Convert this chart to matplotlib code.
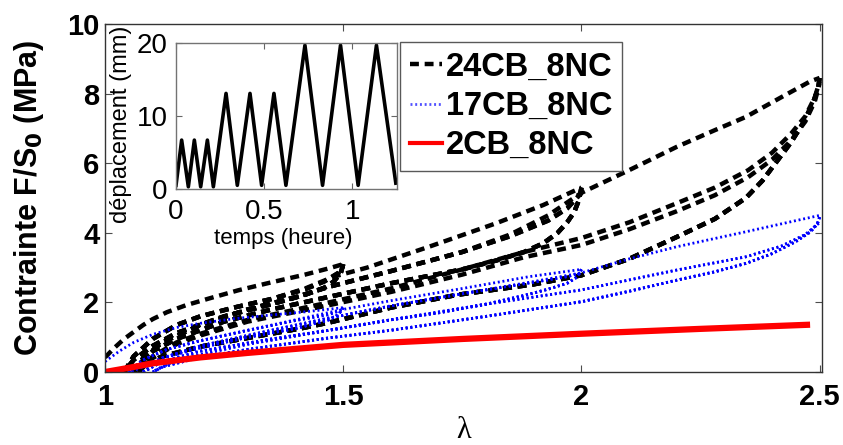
import numpy as np
import matplotlib
matplotlib.use("Agg")
import matplotlib.pyplot as plt

# ---------------- data ----------------
series_names = ["24CB_8NC", "17CB_8NC", "2CB_8NC"]

# 24CB_8NC (black dashed) : successive loading / unloading branches
b_load1_lam = [1.00, 1.02, 1.04, 1.06, 1.08, 1.10, 1.13, 1.17, 1.22, 1.28, 1.35, 1.42, 1.47, 1.50]
b_load1_sig = [0.42, 0.70, 0.95, 1.15, 1.35, 1.52, 1.72, 1.92, 2.12, 2.35, 2.58, 2.80, 2.98, 3.10]
b_unl1_lam = [1.50, 1.495, 1.48, 1.46, 1.42, 1.35, 1.25, 1.15, 1.10, 1.06, 1.04]
b_unl1_sig = [3.10, 2.85, 2.60, 2.42, 2.22, 1.95, 1.60, 1.12, 0.75, 0.35, 0.00]
b_rel1_lam = [1.04, 1.06, 1.10, 1.15, 1.20, 1.27, 1.35, 1.42, 1.46, 1.49, 1.50]
b_rel1_sig = [0.00, 0.45, 0.95, 1.35, 1.60, 1.85, 2.10, 2.38, 2.60, 2.85, 3.05]
b_load2_lam = [1.04, 1.06, 1.10, 1.15, 1.20, 1.27, 1.35, 1.42, 1.48, 1.55, 1.68, 1.82, 1.92, 2.00]
b_load2_sig = [0.00, 0.45, 0.95, 1.35, 1.60, 1.85, 2.10, 2.40, 2.74, 3.00, 3.60, 4.27, 4.80, 5.30]
b_unl2_lam = [2.00, 1.995, 1.985, 1.97, 1.95, 1.92, 1.88, 1.82, 1.75, 1.60, 1.47, 1.35,
              1.25, 1.15, 1.10, 1.07, 1.06]
b_unl2_sig = [5.30, 4.95, 4.60, 4.30, 4.00, 3.70, 3.45, 3.20, 2.95, 2.55, 2.16, 1.80,
              1.45, 0.95, 0.60, 0.20, 0.00]
b_rel2_lam = [1.06, 1.08, 1.12, 1.20, 1.30, 1.40, 1.47, 1.60, 1.75, 1.85, 1.93, 1.97, 2.00]
b_rel2_sig = [0.00, 0.40, 0.85, 1.35, 1.80, 2.15, 2.45, 2.90, 3.45, 3.90, 4.35, 4.70, 5.15]
b_load3_lam = [1.06, 1.08, 1.12, 1.20, 1.30, 1.40, 1.47, 1.60, 1.75, 1.85, 1.93, 2.00,
               2.10, 2.20, 2.28, 2.345, 2.42, 2.48, 2.50]
b_load3_sig = [0.00, 0.40, 0.85, 1.35, 1.80, 2.15, 2.45, 2.90, 3.45, 3.95, 4.50, 5.15,
               5.80, 6.47, 6.95, 7.33, 7.90, 8.35, 8.45]
b_unl3_lam = [2.50, 2.497, 2.485, 2.465, 2.44, 2.41, 2.38, 2.345, 2.28, 2.20, 2.10, 2.00,
              1.90, 1.74, 1.60, 1.47, 1.41, 1.30, 1.20, 1.12, 1.08, 1.07]
b_unl3_sig = [8.45, 8.15, 7.70, 7.15, 6.60, 6.05, 5.50, 5.00, 4.40, 3.88, 3.25, 2.78,
              2.52, 2.22, 1.85, 1.42, 1.25, 0.98, 0.73, 0.45, 0.20, 0.00]
b_rel3a_lam = [1.07, 1.10, 1.15, 1.20, 1.30, 1.47, 1.60, 1.75, 1.88, 2.00, 2.10, 2.20,
               2.28, 2.35, 2.40, 2.44, 2.47, 2.49, 2.50]
b_rel3a_sig = [0.00, 0.45, 0.85, 1.10, 1.50, 2.00, 2.40, 2.95, 3.45, 3.85, 4.30, 4.85,
               5.30, 5.80, 6.30, 6.85, 7.35, 7.90, 8.35]
b_rel3b_lam = [1.07, 1.10, 1.15, 1.20, 1.30, 1.47, 1.60, 1.75, 1.88, 2.00, 2.10, 2.20,
               2.28, 2.35, 2.40, 2.44, 2.47, 2.49, 2.50]
b_rel3b_sig = [0.00, 0.40, 0.80, 1.05, 1.45, 1.92, 2.30, 2.80, 3.30, 3.65, 4.10, 4.62,
               5.08, 5.60, 6.10, 6.65, 7.20, 7.78, 8.30]

# 17CB_8NC (blue dotted)
u_load1_lam = [1.00, 1.03, 1.06, 1.10, 1.15, 1.20, 1.27, 1.35, 1.42, 1.50]
u_load1_sig = [0.30, 0.60, 0.85, 1.08, 1.28, 1.40, 1.53, 1.64, 1.73, 1.85]
u_unl1_lam = [1.50, 1.49, 1.47, 1.40, 1.30, 1.20, 1.12, 1.07, 1.05]
u_unl1_sig = [1.85, 1.65, 1.50, 1.25, 1.00, 0.70, 0.40, 0.10, 0.00]
u_rel1_lam = [1.05, 1.08, 1.13, 1.20, 1.30, 1.40, 1.47, 1.50]
u_rel1_sig = [0.00, 0.35, 0.65, 0.90, 1.20, 1.48, 1.65, 1.80]
u_load2_lam = [1.05, 1.08, 1.13, 1.20, 1.30, 1.40, 1.50, 1.60, 1.75, 1.89, 2.00]
u_load2_sig = [0.00, 0.35, 0.65, 0.90, 1.20, 1.50, 1.80, 2.05, 2.40, 2.74, 2.95]
u_unl2_lam = [2.00, 1.99, 1.97, 1.93, 1.88, 1.80, 1.70, 1.60, 1.47, 1.35, 1.20, 1.12, 1.08]
u_unl2_sig = [2.95, 2.72, 2.55, 2.38, 2.20, 1.95, 1.70, 1.50, 1.20, 0.95, 0.60, 0.30, 0.00]
u_rel2_lam = [1.08, 1.12, 1.20, 1.35, 1.47, 1.60, 1.75, 1.90, 1.97, 2.00]
u_rel2_sig = [0.00, 0.40, 0.75, 1.20, 1.55, 1.90, 2.25, 2.58, 2.74, 2.85]
u_load3_lam = [1.08, 1.12, 1.20, 1.35, 1.47, 1.60, 1.75, 1.90, 2.00, 2.10, 2.20, 2.345, 2.45, 2.50]
u_load3_sig = [0.00, 0.40, 0.75, 1.20, 1.55, 1.90, 2.25, 2.60, 2.85, 3.25, 3.60, 4.03, 4.35, 4.50]
u_unl3_lam = [2.50, 2.495, 2.48, 2.45, 2.40, 2.345, 2.28, 2.20, 2.10, 2.00, 1.80, 1.60,
              1.47, 1.30, 1.20, 1.12, 1.10]
u_unl3_sig = [4.45, 4.25, 4.02, 3.75, 3.40, 3.12, 2.88, 2.64, 2.32, 2.02, 1.60, 1.20,
              0.98, 0.65, 0.42, 0.15, 0.00]
u_rel3_lam = [1.10, 1.15, 1.30, 1.47, 1.60, 1.80, 2.00, 2.20, 2.345, 2.42, 2.47, 2.50]
u_rel3_sig = [0.00, 0.35, 0.80, 1.20, 1.50, 1.95, 2.36, 2.93, 3.31, 3.62, 3.95, 4.30]

# 2CB_8NC (red solid)
r_lam = [1.00, 1.05, 1.10, 1.20, 1.30, 1.50, 1.75, 2.00, 2.25, 2.48]
r_sig = [0.00, 0.12, 0.25, 0.42, 0.55, 0.78, 0.95, 1.10, 1.24, 1.36]

# inset: displacement history
t_heure = [0.0, 0.032, 0.07, 0.104, 0.14, 0.178, 0.212, 0.284, 0.348, 0.42, 0.486,
           0.556, 0.624, 0.732, 0.832, 0.934, 1.034, 1.138, 1.248]
depl_mm = [0.5, 6.7, 0.3, 6.7, 0.3, 6.7, 0.3, 13.1, 0.5, 13.1, 0.5,
           13.1, 0.5, 19.7, 0.5, 19.7, 0.5, 19.7, 0.8]

x_ticks = [1, 1.5, 2, 2.5]
x_ticklabels = ["1", "1.5", "2", "2.5"]
y_ticks = [0, 2, 4, 6, 8, 10]
y_ticklabels = ["0", "2", "4", "6", "8", "10"]
in_xticks = [0, 0.5, 1]
in_xticklabels = ["0", "0.5", "1"]
in_yticks = [0, 10, 20]
in_yticklabels = ["0", "10", "20"]

# ---------------- build paths ----------------
black_branches = [
    (b_load1_lam, b_load1_sig), (b_unl1_lam, b_unl1_sig),
    (b_rel1_lam, b_rel1_sig), (b_unl1_lam, b_unl1_sig),
    (b_rel1_lam, b_rel1_sig), (b_unl1_lam, b_unl1_sig),
    (b_load2_lam, b_load2_sig), (b_unl2_lam, b_unl2_sig),
    (b_rel2_lam, b_rel2_sig), (b_unl2_lam, b_unl2_sig),
    (b_rel2_lam, b_rel2_sig), (b_unl2_lam, b_unl2_sig),
    (b_load3_lam, b_load3_sig), (b_unl3_lam, b_unl3_sig),
    (b_rel3a_lam, b_rel3a_sig), (b_unl3_lam, b_unl3_sig),
    (b_rel3b_lam, b_rel3b_sig), (b_unl3_lam, b_unl3_sig),
]
blue_branches = [
    (u_load1_lam, u_load1_sig), (u_unl1_lam, u_unl1_sig),
    (u_rel1_lam, u_rel1_sig), (u_unl1_lam, u_unl1_sig),
    (u_rel1_lam, u_rel1_sig), (u_unl1_lam, u_unl1_sig),
    (u_load2_lam, u_load2_sig), (u_unl2_lam, u_unl2_sig),
    (u_rel2_lam, u_rel2_sig), (u_unl2_lam, u_unl2_sig),
    (u_rel2_lam, u_rel2_sig), (u_unl2_lam, u_unl2_sig),
    (u_load3_lam, u_load3_sig), (u_unl3_lam, u_unl3_sig),
    (u_rel3_lam, u_rel3_sig), (u_unl3_lam, u_unl3_sig),
    (u_rel3_lam, u_rel3_sig), (u_unl3_lam, u_unl3_sig),
]

# ---------------- figure ----------------
plt.rcParams["font.family"] = ["Liberation Sans", "DejaVu Sans"]

fig = plt.figure(figsize=(8.43, 4.45), dpi=100)
ax = fig.add_axes([0.1246, 0.164, 0.8505, 0.782])

black_style = dict(color="black", lw=3.2, linestyle=(0, (2.0, 1.3)))
blue_style = dict(color="blue", lw=2.0, linestyle=(0, (0.7, 1.0)))
for lx, ly in black_branches:
    ax.plot(lx, ly, **black_style)
for lx, ly in blue_branches:
    ax.plot(lx, ly, **blue_style)
ax.plot(r_lam, r_sig, color="red", lw=4.5, solid_capstyle="butt")

h1 = plt.Line2D([], [], **black_style)
h2 = plt.Line2D([], [], color="#5050ff", lw=2.0, linestyle=(0, (0.7, 1.0)))
h3 = plt.Line2D([], [], color="red", lw=3.0)

ax.set_xlim(1, 2.505)
ax.set_ylim(0, 10)
ax.set_xticks(x_ticks, labels=x_ticklabels, fontweight="bold", fontsize=21)
ax.set_yticks(y_ticks, labels=y_ticklabels, fontweight="bold", fontsize=21)
ax.tick_params(axis="both", direction="in", length=5, width=0.8, top=True, right=True,
               color="0.3")
ax.tick_params(axis="x", pad=8)
ax.tick_params(axis="y", pad=4)
for s in ax.spines.values():
    s.set_color("0.2")
    s.set_linewidth(1.0)

ax.set_ylabel("Contrainte F/S$_\\mathbf{0}$ (MPa)", fontsize=22, fontweight="bold")
ax.yaxis.set_label_coords(-0.083, 0.5)
ax.set_xlabel("λ", fontsize=22, family=["Liberation Serif", "DejaVu Serif"])
ax.xaxis.set_label_coords(0.5, -0.125)

leg = ax.legend(handles=[h1, h2, h3], labels=series_names, loc="upper left",
                bbox_to_anchor=(0.4745, 0.9056), bbox_transform=fig.transFigure,
                borderaxespad=0, fancybox=False, framealpha=1, edgecolor="0.35",
                prop={"weight": "bold", "size": 23.5}, handlelength=1.0,
                handletextpad=0.1, labelspacing=0.25, borderpad=0.3)
leg.get_frame().set_linewidth(1.0)

# inset
ax2 = fig.add_axes([0.2088, 0.5753, 0.2622, 0.328])
ax2.plot(t_heure, depl_mm, color="black", lw=2.6)
ax2.set_xlim(0, 1.255)
ax2.set_ylim(0, 20)
ax2.set_xticks(in_xticks, labels=in_xticklabels, fontsize=20)
ax2.set_yticks(in_yticks, labels=in_yticklabels, fontsize=20)
ax2.tick_params(axis="both", direction="in", length=4, width=0.8, top=True, right=True,
                color="0.4")
ax2.tick_params(axis="x", pad=7)
ax2.tick_params(axis="y", pad=6)
for s in ax2.spines.values():
    s.set_color("0.45")
    s.set_linewidth(1.0)
ax2.set_xlabel("temps (heure)", fontsize=16)
ax2.xaxis.set_label_coords(0.484, -0.265)
ax2.set_ylabel("déplacement (mm)", fontsize=17)
ax2.yaxis.set_label_coords(-0.20, 0.44)

fig.savefig("out.png", dpi=100)
